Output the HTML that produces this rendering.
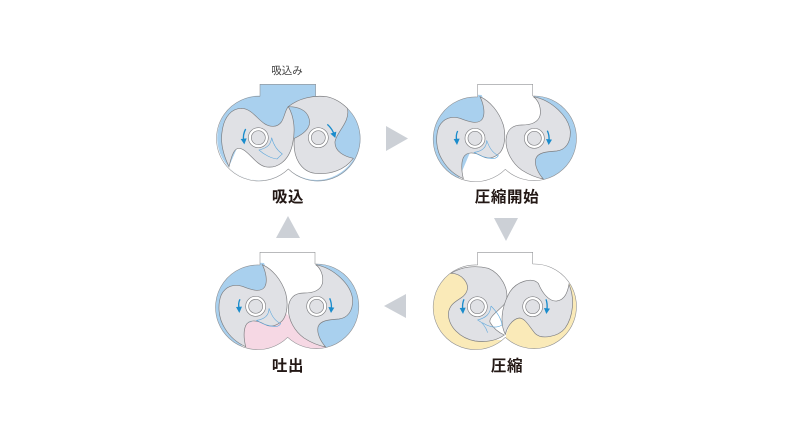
<!DOCTYPE html>
<html><head><meta charset="utf-8"><style>
html,body{margin:0;padding:0;background:#fff}
svg{display:block}
text{font-family:"Liberation Sans","Noto Sans CJK JP",sans-serif;fill:#231815;text-anchor:middle}
.b{font-weight:700;font-size:15.5px;letter-spacing:.6px}
.r{fill:#e0e1e5;stroke:#7d7e81;stroke-width:2}
.h{fill:none;stroke:#8f9093;stroke-width:1.700}
.l{fill:none;stroke:#5fa8dc;stroke-width:1.800}
.a{fill:none;stroke:#1a8ccc;stroke-width:4}
.ah{fill:#1a8ccc}
.o{fill:#fff;stroke:#808184;stroke-width:2}
.i{fill:#e0e1e5;stroke:#808184;stroke-width:2}
</style></head><body>
<svg width="792" height="446" viewBox="0 0 792 446" xmlns="http://www.w3.org/2000/svg">
<defs>
<clipPath id="c1"><path d="M165,122A127,127 0 1 0 250,342A127,127 0 1 0 335,121L332,88H165Z"/></clipPath>
<clipPath id="c2"><path d="M158,66A127,127 0 1 0 241,283A127,127 0 1 0 323,63V28H158Z"/></clipPath>
<clipPath id="c3"><path d="M158,60A127,127 0 1 0 241,277A127,127 0 1 0 323,57V22H158Z"/></clipPath>
<clipPath id="c4"><path d="M165,60A127,127 0 1 0 248,277A127,127 0 1 0 330,57V22H165Z"/></clipPath>
</defs>

<!-- Panel 1 -->
<g transform="translate(205,55) scale(.33333)">
<path d="M165,122V88H332V125A127,127 0 1 1 250,342A127,127 0 1 1 165,122Z" fill="#a9d0ee"/>
<g clip-path="url(#c1)"><path d="M72,335L100,270L270,250L290,330L445,310L470,420L72,420Z" fill="#fff"/></g>
<path class="h" d="M165,124V88H332V124M165,124A127,127 0 1 0 250,342A127,127 0 1 0 332,124"/>
<path class="r" d="M72,335C55,300 45,260 52,225C58,185 80,160 110,160C150,162 165,215 205,214C240,212 235,170 250,155C268,185 272,230 262,270C250,320 215,342 180,335C150,328 125,278 100,280C85,282 78,310 72,335Z"/>
<path class="r" d="M250,155C280,130 325,120 365,125C390,130 412,145 427,160C437,200 395,230 390,260C388,290 420,305 445,310C420,345 375,360 330,355C290,350 262,310 268,250C300,235 320,215 312,190C305,165 280,155 250,155Z"/>
<path class="l" d="M200,248C197,268 190,278 162,285C178,300 200,310 216,312C222,306 228,300 232,297C215,285 205,268 200,248Z"/>
<circle class="o" cx="160" cy="248" r="30"/><circle class="i" cx="160" cy="248" r="21"/>
<circle class="o" cx="340" cy="248" r="30"/><circle class="i" cx="340" cy="248" r="21"/>
<path class="a" d="M122,222C115,235 114,245 116,256"/><path class="ah" d="M107,252L125,250L118,268Z"/>
<path class="a" d="M367,208C376,216 382,225 386,234"/><path class="ah" d="M376,236L394,230L391,249Z"/>
</g>

<!-- Panel 2 -->
<g transform="translate(425,75) scale(.33333)">
<g clip-path="url(#c2)">
<path d="M170,60L185,100L170,150L100,315L0,320L0,50Z" fill="#a9d0ee"/>
<path d="M325,62L360,100L380,190L320,250L325,290L355,313L470,320L470,50Z" fill="#a9d0ee"/>
</g>
<path class="h" d="M158,66V28H323V63M158,66A127,127 0 1 0 241,283A127,127 0 1 0 323,63"/>
<path class="r" d="M165,65C175,85 182,115 172,132C160,150 130,140 105,130C80,122 55,130 42,155C30,185 33,225 52,255C68,282 90,300 115,311C110,290 108,265 115,248C125,228 150,232 170,243C190,255 210,248 225,233C240,215 243,180 235,150C222,110 195,78 165,65Z"/>
<path class="r" d="M325,65C340,75 350,100 345,122C338,145 315,150 290,150C262,150 245,165 243,195C242,230 262,265 290,285C310,298 335,308 355,312C340,295 328,272 332,252C338,232 365,230 395,228C420,225 437,205 436,170C432,125 380,75 325,65Z"/>
<path class="l" d="M185,196C185,215 175,228 148,232C165,242 185,252 210,250C215,248 218,245 220,242C200,232 192,215 185,196Z"/>
<circle class="o" cx="150" cy="190" r="30"/><circle class="i" cx="150" cy="190" r="21"/>
<circle class="o" cx="328" cy="190" r="30"/><circle class="i" cx="328" cy="190" r="21"/>
<path class="a" d="M98,168C93,178 93,186 95,196"/><path class="ah" d="M86,192L104,191L96,210Z"/>
<path class="a" d="M367,167C372,178 373,186 372,196"/><path class="ah" d="M363,192L381,194L371,210Z"/>
</g>

<!-- Panel 3 -->
<g transform="translate(425,245) scale(.33333)">
<g clip-path="url(#c3)">
<path d="M78,85L110,78L150,110L140,160L90,200L150,270L200,285L232,285L241,320L0,320L0,50Z" fill="#faeab8"/>
<path d="M243,268L270,200L330,240L420,220L432,118L470,100L470,330L243,330Z" fill="#faeab8"/>
</g>
<path class="h" d="M158,60V22H323V57M158,60A127,127 0 1 0 241,277A127,127 0 1 0 323,57"/>
<path class="r" d="M78,85C110,85 135,115 125,140C115,165 75,165 70,205C70,245 105,280 150,288C180,292 210,290 238,270C220,262 205,250 195,232C190,215 225,195 243,172C255,130 225,85 190,70C150,60 110,65 78,85Z"/>
<path class="r" d="M241,268C226,240 226,190 255,140C275,110 320,95 340,115C350,140 370,170 395,168C420,165 428,140 432,118C450,160 445,215 420,250C400,275 350,285 330,265C310,240 300,220 283,219C260,222 245,250 241,268Z"/>
<path class="l" d="M198,183C196,205 185,218 158,225C172,232 182,245 188,263M198,183C210,195 228,215 231,240C215,250 195,248 172,233"/>
<circle class="o" cx="157" cy="185" r="30"/><circle class="i" cx="157" cy="185" r="21"/>
<circle class="o" cx="323" cy="185" r="30"/><circle class="i" cx="323" cy="185" r="21"/>
<path class="a" d="M117,163C112,174 112,182 113,192"/><path class="ah" d="M104,189L122,188L114,207Z"/>
<path class="a" d="M363,163C367,174 367,182 366,192"/><path class="ah" d="M357,189L375,191L364,207Z"/>
</g>

<!-- Panel 4 -->
<g transform="translate(205,245) scale(.33333)">
<g clip-path="url(#c4)">
<path d="M177,54L192,94L177,144L107,309L0,314L0,44Z" fill="#a9d0ee"/>
<path d="M332,56L367,94L387,184L327,244L332,284L362,307L477,314L477,44Z" fill="#a9d0ee"/>
<path d="M122,305L110,240L240,200L280,250L362,307L362,330L122,330Z" fill="#f6d8e4"/>
</g>
<path class="h" d="M165,60V22H330V57M165,60A127,127 0 1 0 248,277A127,127 0 1 0 330,57"/>
<path class="r" d="M172,59C182,79 189,109 179,126C167,144 137,134 112,124C87,116 62,124 49,149C37,179 40,219 59,249C75,276 97,294 122,305C117,284 115,259 122,242C132,222 157,226 177,237C197,249 217,242 232,227C247,209 250,174 242,144C229,104 202,72 172,59Z"/>
<path class="r" d="M332,59C347,69 357,94 352,116C345,139 322,144 297,144C269,144 252,159 250,189C249,224 269,259 297,279C317,292 342,302 362,306C347,289 335,266 339,246C345,226 372,224 402,222C427,219 444,199 443,164C439,119 387,69 332,59Z"/>
<path class="l" d="M192,190C192,209 182,222 155,226C172,236 192,246 217,244C222,242 225,239 227,236C207,226 199,209 192,190Z"/>
<circle class="o" cx="152" cy="184" r="30"/><circle class="i" cx="152" cy="184" r="21"/>
<circle class="o" cx="335" cy="184" r="30"/><circle class="i" cx="335" cy="184" r="21"/>
<path class="a" d="M105,163C100,172 100,180 102,190"/><path class="ah" d="M93,186L111,185L103,204Z"/>
<path class="a" d="M374,160C379,171 380,180 379,190"/><path class="ah" d="M370,186L388,188L378,204Z"/>
</g>

<!-- Direction triangles -->
<path d="M386,126L408,138.500L386,151Z" fill="#ccd0d6"/>
<path d="M494,218H518L506,241Z" fill="#ccd0d6"/>
<path d="M406,294V318L384,306Z" fill="#ccd0d6"/>
<path d="M276,238H300L288,216Z" fill="#ccd0d6"/>

<!-- Labels -->
<text x="287" y="74" font-size="10.500" style="fill:#444">吸込み</text>
<text class="b" x="288" y="202">吸込</text>
<text class="b" x="507" y="202">圧縮開始</text>
<text class="b" x="507" y="371">圧縮</text>
<text class="b" x="288" y="371">吐出</text>
</svg>
</body></html>
